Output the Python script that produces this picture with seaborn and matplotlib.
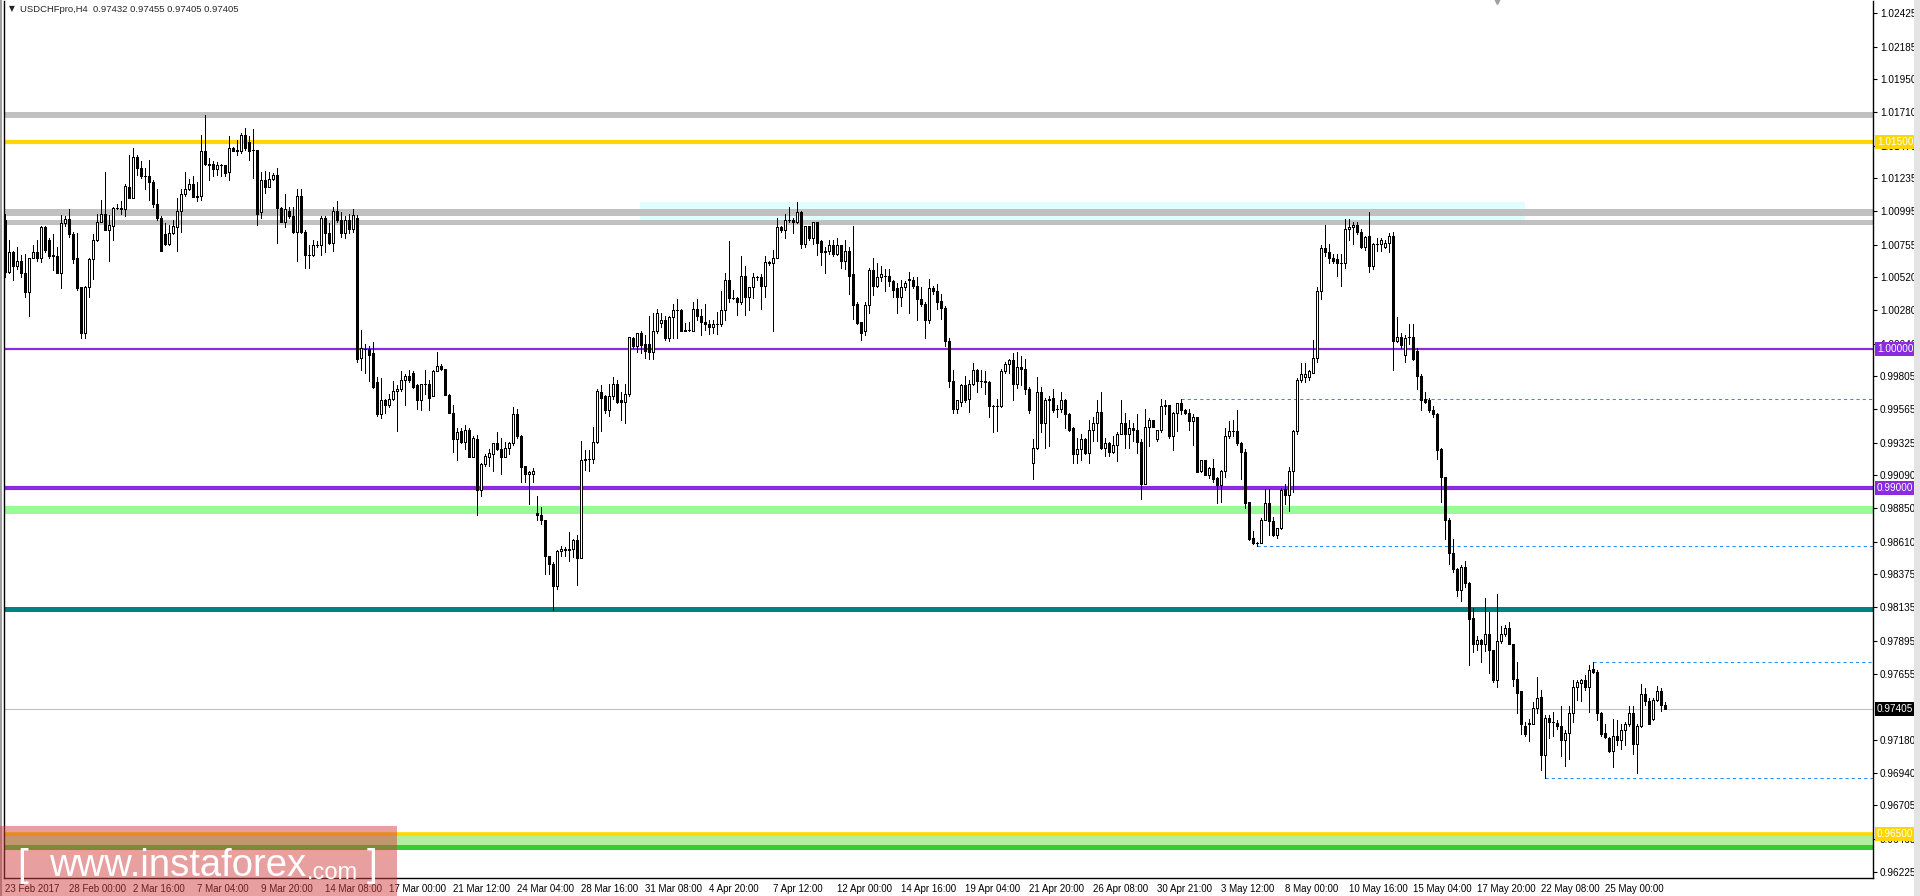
import numpy as np
import pandas as pd
import matplotlib

matplotlib.use("Agg")
import matplotlib.pyplot as plt
from matplotlib.patches import Rectangle
import seaborn as sns

W, H, DPI = 1920, 896, 100

SYMBOL = "USDCHFpro,H4"
LAST_OHLC = [0.97432, 0.97455, 0.97405, 0.97405]

# H4 candles left to right
OPENS = [
    1.0093, 1.0056, 1.0070, 1.0060, 1.0064, 1.0055, 1.0041, 1.0066, 1.0070, 1.0066,
    1.0088, 1.0079, 1.0067, 1.0067, 1.0055, 1.0091, 1.0094, 1.0083, 1.0066, 1.0045,
    1.0012, 1.0045, 1.0065, 1.0079, 1.0092, 1.0098, 1.0086, 1.0089, 1.0102, 1.0102,
    1.0101, 1.0117, 1.0109, 1.0139, 1.0131, 1.0125, 1.0125, 1.0121, 1.0105, 1.0095,
    1.0083, 1.0076, 1.0084, 1.0088, 1.0100, 1.0112, 1.0116, 1.0119, 1.0110, 1.0111,
    1.0143, 1.0134, 1.0134, 1.0130, 1.0133, 1.0133, 1.0128, 1.0145, 1.0144, 1.0143,
    1.0155, 1.0150, 1.0144, 1.0144, 1.0099, 1.0122, 1.0117, 1.0123, 1.0126, 1.0102,
    1.0092, 1.0100, 1.0096, 1.0085, 1.0111, 1.0085, 1.0068, 1.0068, 1.0075, 1.0075,
    1.0095, 1.0084, 1.0077, 1.0100, 1.0093, 1.0084, 1.0093, 1.0087, 1.0095, 0.9994,
    1.0000, 1.0000, 0.9997, 0.9976, 0.9953, 0.9963, 0.9960, 0.9964, 0.9970, 0.9971,
    0.9978, 0.9981, 0.9983, 0.9974, 0.9963, 0.9975, 0.9975, 0.9966, 0.9984, 0.9988,
    0.9986, 0.9967, 0.9954, 0.9935, 0.9941, 0.9933, 0.9942, 0.9922, 0.9935, 0.9898,
    0.9917, 0.9922, 0.9924, 0.9932, 0.9928, 0.9922, 0.9929, 0.9932, 0.9953, 0.9937,
    0.9916, 0.9910, 0.9910, 0.9882, 0.9880, 0.9877, 0.9851, 0.9845, 0.9829, 0.9854,
    0.9855, 0.9855, 0.9856, 0.9862, 0.9849, 0.9920, 0.9921, 0.9921, 0.9933, 0.9969,
    0.9966, 0.9956, 0.9966, 0.9975, 0.9963, 0.9962, 0.9968, 1.0008, 1.0002, 1.0012,
    1.0004, 1.0004, 0.9998, 1.0013, 1.0019, 1.0021, 1.0008, 1.0023, 1.0028, 1.0028,
    1.0013, 1.0014, 1.0013, 1.0029, 1.0024, 1.0020, 1.0018, 1.0016, 1.0018, 1.0018,
    1.0028, 1.0050, 1.0037, 1.0037, 1.0034, 1.0053, 1.0038, 1.0045, 1.0052, 1.0052,
    1.0046, 1.0063, 1.0062, 1.0066, 1.0088, 1.0086, 1.0093, 1.0093, 1.0092, 1.0099,
    1.0076, 1.0089, 1.0080, 1.0092, 1.0078, 1.0070, 1.0071, 1.0075, 1.0069, 1.0075,
    1.0064, 1.0071, 1.0054, 1.0033, 1.0020, 1.0013, 1.0032, 1.0057, 1.0046, 1.0052,
    1.0053, 1.0053, 1.0049, 1.0044, 1.0038, 1.0045, 1.0051, 1.0050, 1.0046, 1.0036,
    1.0033, 1.0021, 1.0044, 1.0042, 1.0035, 1.0030, 1.0006, 0.9977, 0.9957, 0.9962,
    0.9974, 0.9964, 0.9975, 0.9985, 0.9977, 0.9977, 0.9976, 0.9959, 0.9959, 0.9959,
    0.9984, 0.9989, 0.9992, 0.9975, 0.9987, 0.9986, 0.9971, 0.9918, 0.9929, 0.9969,
    0.9947, 0.9963, 0.9965, 0.9957, 0.9957, 0.9963, 0.9953, 0.9943, 0.9924, 0.9928,
    0.9935, 0.9925, 0.9942, 0.9947, 0.9955, 0.9929, 0.9932, 0.9926, 0.9931, 0.9939,
    0.9947, 0.9939, 0.9943, 0.9942, 0.9933, 0.9903, 0.9944, 0.9949, 0.9935, 0.9942,
    0.9959, 0.9960, 0.9937, 0.9954, 0.9961, 0.9956, 0.9954, 0.9948, 0.9951, 0.9912,
    0.9920, 0.9909, 0.9914, 0.9907, 0.9902, 0.9912, 0.9937, 0.9941, 0.9941, 0.9932,
    0.9926, 0.9890, 0.9864, 0.9860, 0.9860, 0.9877, 0.9889, 0.9876, 0.9866, 0.9871,
    0.9899, 0.9895, 0.9912, 0.9941, 0.9978, 0.9980, 0.9980, 0.9983, 0.9994, 1.0042,
    1.0073, 1.0070, 1.0066, 1.0065, 1.0062, 1.0062, 1.0087, 1.0088, 1.0090, 1.0085,
    1.0074, 1.0082, 1.0060, 1.0076, 1.0076, 1.0074, 1.0077, 1.0082, 1.0006, 1.0009,
    0.9996, 1.0009, 1.0009, 0.9999, 0.9981, 0.9964, 0.9963, 0.9956, 0.9953, 0.9928,
    0.9908, 0.9877, 0.9853, 0.9841, 0.9826, 0.9843, 0.9831, 0.9806, 0.9787, 0.9790,
    0.9787, 0.9794, 0.9783, 0.9761, 0.9789, 0.9794, 0.9799, 0.9787, 0.9762, 0.9753,
    0.9728, 0.9729, 0.9729, 0.9741, 0.9749, 0.9707, 0.9734, 0.9731, 0.9730, 0.9728,
    0.9718, 0.9723, 0.9737, 0.9756, 0.9759, 0.9761, 0.9756, 0.9769, 0.9767, 0.9737,
    0.9723, 0.9719, 0.9710, 0.9721, 0.9718, 0.9725, 0.9729, 0.9737, 0.9715, 0.9728,
    0.9751, 0.9746, 0.9733, 0.9747, 0.9753, 0.97432,
]
HIGHS = [
    1.0098, 1.0079, 1.0071, 1.0074, 1.0068, 1.0069, 1.0066, 1.0075, 1.0079, 1.0089,
    1.0089, 1.0080, 1.0083, 1.0074, 1.0097, 1.0096, 1.0101, 1.0085, 1.0084, 1.0045,
    1.0046, 1.0066, 1.0083, 1.0098, 1.0108, 1.0128, 1.0097, 1.0103, 1.0105, 1.0107,
    1.0119, 1.0140, 1.0145, 1.0140, 1.0136, 1.0131, 1.0137, 1.0122, 1.0116, 1.0096,
    1.0091, 1.0090, 1.0093, 1.0109, 1.0116, 1.0128, 1.0123, 1.0125, 1.0121, 1.0155,
    1.0169, 1.0138, 1.0136, 1.0135, 1.0134, 1.0133, 1.0154, 1.0146, 1.0151, 1.0156,
    1.0160, 1.0154, 1.0159, 1.0144, 1.0128, 1.0129, 1.0128, 1.0127, 1.0131, 1.0103,
    1.0112, 1.0103, 1.0103, 1.0116, 1.0116, 1.0086, 1.0075, 1.0079, 1.0078, 1.0096,
    1.0096, 1.0091, 1.0103, 1.0107, 1.0099, 1.0096, 1.0098, 1.0101, 1.0097, 1.0014,
    1.0004, 1.0002, 1.0005, 0.9980, 0.9979, 0.9964, 0.9968, 0.9977, 0.9974, 0.9984,
    0.9982, 0.9985, 0.9984, 0.9975, 0.9975, 0.9985, 0.9978, 0.9985, 0.9998, 0.9989,
    0.9986, 0.9968, 0.9960, 0.9943, 0.9943, 0.9945, 0.9943, 0.9937, 0.9938, 0.9918,
    0.9924, 0.9928, 0.9932, 0.9940, 0.9936, 0.9933, 0.9933, 0.9958, 0.9957, 0.9938,
    0.9916, 0.9912, 0.9914, 0.9894, 0.9886, 0.9877, 0.9851, 0.9846, 0.9855, 0.9858,
    0.9857, 0.9868, 0.9863, 0.9866, 0.9934, 0.9927, 0.9927, 0.9944, 0.9971, 0.9974,
    0.9967, 0.9975, 0.9980, 0.9978, 0.9969, 0.9975, 1.0009, 1.0009, 1.0012, 1.0013,
    1.0010, 1.0024, 1.0026, 1.0029, 1.0026, 1.0024, 1.0024, 1.0033, 1.0036, 1.0029,
    1.0019, 1.0020, 1.0034, 1.0036, 1.0029, 1.0033, 1.0021, 1.0021, 1.0027, 1.0042,
    1.0055, 1.0078, 1.0043, 1.0038, 1.0067, 1.0060, 1.0045, 1.0055, 1.0053, 1.0054,
    1.0067, 1.0064, 1.0072, 1.0095, 1.0089, 1.0098, 1.0103, 1.0095, 1.0106, 1.0100,
    1.0089, 1.0089, 1.0092, 1.0092, 1.0079, 1.0074, 1.0079, 1.0079, 1.0080, 1.0075,
    1.0079, 1.0074, 1.0089, 1.0034, 1.0020, 1.0034, 1.0059, 1.0066, 1.0062, 1.0060,
    1.0058, 1.0058, 1.0050, 1.0048, 1.0050, 1.0049, 1.0056, 1.0052, 1.0052, 1.0045,
    1.0034, 1.0051, 1.0046, 1.0047, 1.0040, 1.0031, 1.0008, 0.9985, 0.9963, 0.9975,
    0.9981, 0.9978, 0.9990, 0.9986, 0.9985, 0.9984, 0.9977, 0.9960, 0.9964, 0.9986,
    0.9991, 0.9993, 0.9997, 0.9998, 0.9995, 0.9993, 0.9973, 0.9935, 0.9980, 0.9973,
    0.9965, 0.9966, 0.9971, 0.9960, 0.9969, 0.9964, 0.9954, 0.9944, 0.9936, 0.9939,
    0.9936, 0.9949, 0.9951, 0.9963, 0.9969, 0.9936, 0.9933, 0.9937, 0.9940, 0.9963,
    0.9954, 0.9949, 0.9947, 0.9953, 0.9935, 0.9957, 0.9950, 0.9949, 0.9942, 0.9964,
    0.9963, 0.9960, 0.9955, 0.9961, 0.9964, 0.9957, 0.9957, 0.9953, 0.9951, 0.9920,
    0.9920, 0.9915, 0.9921, 0.9908, 0.9913, 0.9943, 0.9948, 0.9949, 0.9956, 0.9933,
    0.9928, 0.9890, 0.9869, 0.9861, 0.9878, 0.9899, 0.9899, 0.9879, 0.9871, 0.9900,
    0.9903, 0.9915, 0.9942, 0.9979, 0.9990, 0.9990, 0.9985, 1.0007, 1.0045, 1.0075,
    1.0090, 1.0076, 1.0069, 1.0069, 1.0069, 1.0094, 1.0094, 1.0092, 1.0092, 1.0087,
    1.0082, 1.0099, 1.0077, 1.0080, 1.0080, 1.0079, 1.0084, 1.0085, 1.0023, 1.0012,
    1.0010, 1.0018, 1.0018, 1.0001, 0.9982, 0.9969, 0.9965, 0.9959, 0.9954, 0.9929,
    0.9908, 0.9878, 0.9863, 0.9842, 0.9844, 0.9847, 0.9832, 0.9813, 0.9793, 0.9791,
    0.9820, 0.9810, 0.9783, 0.9823, 0.9800, 0.9801, 0.9803, 0.9787, 0.9774, 0.9753,
    0.9731, 0.9733, 0.9745, 0.9763, 0.9754, 0.9736, 0.9736, 0.9738, 0.9732, 0.9742,
    0.9725, 0.9742, 0.9761, 0.9761, 0.9762, 0.9765, 0.9772, 0.9774, 0.9768, 0.9738,
    0.9729, 0.9720, 0.9733, 0.9732, 0.9729, 0.9731, 0.9742, 0.9742, 0.9729, 0.9758,
    0.9755, 0.9748, 0.9748, 0.9757, 0.9755, 0.97455,
]
LOWS = [
    1.0052, 1.0055, 1.0050, 1.0058, 1.0052, 1.0038, 1.0024, 1.0066, 1.0064, 1.0063,
    1.0070, 1.0066, 1.0057, 1.0055, 1.0044, 1.0089, 1.0081, 1.0062, 1.0043, 1.0008,
    1.0008, 1.0038, 1.0051, 1.0078, 1.0092, 1.0086, 1.0064, 1.0079, 1.0101, 1.0098,
    1.0096, 1.0109, 1.0109, 1.0126, 1.0124, 1.0116, 1.0108, 1.0103, 1.0093, 1.0071,
    1.0075, 1.0075, 1.0083, 1.0071, 1.0085, 1.0111, 1.0115, 1.0110, 1.0107, 1.0108,
    1.0133, 1.0122, 1.0125, 1.0126, 1.0125, 1.0125, 1.0122, 1.0143, 1.0140, 1.0142,
    1.0144, 1.0137, 1.0124, 1.0090, 1.0095, 1.0113, 1.0117, 1.0122, 1.0077, 1.0092,
    1.0088, 1.0095, 1.0084, 1.0064, 1.0084, 1.0059, 1.0059, 1.0067, 1.0074, 1.0068,
    1.0070, 1.0076, 1.0071, 1.0092, 1.0081, 1.0080, 1.0084, 1.0085, 0.9991, 0.9985,
    0.9983, 0.9977, 0.9972, 0.9952, 0.9950, 0.9954, 0.9958, 0.9963, 0.9941, 0.9970,
    0.9960, 0.9976, 0.9972, 0.9957, 0.9956, 0.9968, 0.9956, 0.9966, 0.9984, 0.9985,
    0.9967, 0.9954, 0.9926, 0.9920, 0.9932, 0.9928, 0.9922, 0.9922, 0.9880, 0.9894,
    0.9916, 0.9916, 0.9912, 0.9927, 0.9910, 0.9922, 0.9924, 0.9931, 0.9936, 0.9904,
    0.9904, 0.9888, 0.9904, 0.9877, 0.9874, 0.9838, 0.9838, 0.9812, 0.9827, 0.9851,
    0.9851, 0.9847, 0.9850, 0.9830, 0.9849, 0.9913, 0.9912, 0.9918, 0.9932, 0.9941,
    0.9954, 0.9952, 0.9964, 0.9961, 0.9949, 0.9947, 0.9966, 1.0001, 0.9998, 0.9997,
    0.9994, 0.9993, 0.9993, 1.0012, 1.0016, 1.0007, 1.0006, 1.0008, 1.0008, 1.0013,
    1.0013, 1.0013, 1.0013, 1.0021, 1.0010, 1.0014, 1.0011, 1.0012, 1.0011, 1.0017,
    1.0021, 1.0034, 1.0036, 1.0025, 1.0033, 1.0025, 1.0028, 1.0037, 1.0050, 1.0029,
    1.0038, 1.0061, 1.0013, 1.0066, 1.0085, 1.0080, 1.0092, 1.0084, 1.0091, 1.0073,
    1.0074, 1.0079, 1.0076, 1.0068, 1.0061, 1.0055, 1.0069, 1.0067, 1.0068, 1.0059,
    1.0058, 1.0040, 1.0022, 1.0018, 1.0007, 1.0010, 1.0026, 1.0039, 1.0045, 1.0049,
    1.0042, 1.0046, 1.0038, 1.0026, 1.0031, 1.0043, 1.0026, 1.0044, 1.0021, 1.0031,
    1.0008, 1.0019, 1.0040, 1.0029, 1.0022, 1.0002, 0.9973, 0.9954, 0.9954, 0.9959,
    0.9962, 0.9955, 0.9974, 0.9969, 0.9973, 0.9968, 0.9951, 0.9940, 0.9941, 0.9958,
    0.9983, 0.9983, 0.9963, 0.9972, 0.9974, 0.9968, 0.9954, 0.9906, 0.9928, 0.9940,
    0.9929, 0.9930, 0.9955, 0.9951, 0.9955, 0.9943, 0.9941, 0.9918, 0.9918, 0.9920,
    0.9924, 0.9918, 0.9934, 0.9934, 0.9928, 0.9923, 0.9923, 0.9925, 0.9919, 0.9939,
    0.9929, 0.9929, 0.9934, 0.9925, 0.9892, 0.9903, 0.9930, 0.9944, 0.9934, 0.9940,
    0.9953, 0.9936, 0.9927, 0.9941, 0.9953, 0.9953, 0.9942, 0.9931, 0.9911, 0.9911,
    0.9909, 0.9907, 0.9904, 0.9889, 0.9890, 0.9908, 0.9936, 0.9937, 0.9931, 0.9906,
    0.9885, 0.9862, 0.9859, 0.9858, 0.9860, 0.9877, 0.9866, 0.9865, 0.9864, 0.9870,
    0.9888, 0.9883, 0.9897, 0.9939, 0.9976, 0.9976, 0.9978, 0.9983, 0.9991, 1.0036,
    1.0067, 1.0062, 1.0062, 1.0053, 1.0046, 1.0059, 1.0079, 1.0076, 1.0083, 1.0073,
    1.0072, 1.0056, 1.0058, 1.0071, 1.0071, 1.0073, 1.0070, 0.9985, 1.0005, 1.0001,
    0.9991, 1.0004, 0.9992, 0.9971, 0.9956, 0.9961, 0.9955, 0.9951, 0.9921, 0.9890,
    0.9863, 0.9845, 0.9839, 0.9822, 0.9818, 0.9828, 0.9772, 0.9781, 0.9783, 0.9774,
    0.9782, 0.9766, 0.9760, 0.9756, 0.9788, 0.9793, 0.9787, 0.9757, 0.9737, 0.9722,
    0.9721, 0.9717, 0.9729, 0.9737, 0.9696, 0.9690, 0.9719, 0.9721, 0.9726, 0.9706,
    0.9699, 0.9704, 0.9731, 0.9747, 0.9746, 0.9754, 0.9738, 0.9766, 0.9732, 0.9721,
    0.9719, 0.9709, 0.9698, 0.9714, 0.9711, 0.9714, 0.9728, 0.9708, 0.9694, 0.9727,
    0.9743, 0.9729, 0.9732, 0.9746, 0.9739, 0.97405,
]
CLOSES = [
    1.0056, 1.0070, 1.0060, 1.0064, 1.0055, 1.0041, 1.0066, 1.0070, 1.0066, 1.0088,
    1.0072, 1.0067, 1.0068, 1.0055, 1.0091, 1.0094, 1.0083, 1.0065, 1.0044, 1.0012,
    1.0045, 1.0065, 1.0079, 1.0092, 1.0098, 1.0086, 1.0090, 1.0102, 1.0102, 1.0101,
    1.0118, 1.0109, 1.0139, 1.0131, 1.0125, 1.0125, 1.0121, 1.0105, 1.0095, 1.0071,
    1.0076, 1.0084, 1.0089, 1.0100, 1.0112, 1.0116, 1.0119, 1.0110, 1.0111, 1.0143,
    1.0134, 1.0133, 1.0130, 1.0133, 1.0133, 1.0127, 1.0145, 1.0143, 1.0143, 1.0155,
    1.0145, 1.0143, 1.0144, 1.0098, 1.0122, 1.0117, 1.0123, 1.0126, 1.0102, 1.0092,
    1.0101, 1.0096, 1.0085, 1.0111, 1.0085, 1.0068, 1.0068, 1.0075, 1.0075, 1.0095,
    1.0084, 1.0077, 1.0100, 1.0093, 1.0084, 1.0093, 1.0087, 1.0097, 0.9993, 1.0001,
    1.0000, 0.9996, 0.9973, 0.9953, 0.9963, 0.9960, 0.9964, 0.9970, 0.9971, 0.9978,
    0.9981, 0.9978, 0.9973, 0.9963, 0.9975, 0.9975, 0.9965, 0.9984, 0.9988, 0.9986,
    0.9967, 0.9954, 0.9935, 0.9940, 0.9933, 0.9942, 0.9922, 0.9936, 0.9898, 0.9917,
    0.9923, 0.9925, 0.9932, 0.9928, 0.9922, 0.9929, 0.9932, 0.9953, 0.9937, 0.9915,
    0.9910, 0.9911, 0.9912, 0.9880, 0.9877, 0.9851, 0.9845, 0.9829, 0.9854, 0.9856,
    0.9856, 0.9856, 0.9862, 0.9849, 0.9920, 0.9921, 0.9921, 0.9933, 0.9970, 0.9965,
    0.9956, 0.9966, 0.9975, 0.9962, 0.9962, 0.9968, 1.0009, 1.0002, 1.0012, 1.0003,
    0.9999, 0.9998, 1.0013, 1.0026, 1.0021, 1.0008, 1.0023, 1.0028, 1.0028, 1.0013,
    1.0014, 1.0014, 1.0029, 1.0024, 1.0020, 1.0018, 1.0016, 1.0018, 1.0018, 1.0028,
    1.0050, 1.0037, 1.0037, 1.0034, 1.0053, 1.0038, 1.0045, 1.0052, 1.0052, 1.0046,
    1.0063, 1.0062, 1.0066, 1.0088, 1.0086, 1.0093, 1.0093, 1.0092, 1.0099, 1.0076,
    1.0089, 1.0080, 1.0092, 1.0077, 1.0070, 1.0071, 1.0075, 1.0069, 1.0075, 1.0064,
    1.0071, 1.0053, 1.0032, 1.0019, 1.0012, 1.0032, 1.0057, 1.0046, 1.0052, 1.0054,
    1.0053, 1.0049, 1.0043, 1.0038, 1.0045, 1.0048, 1.0050, 1.0046, 1.0036, 1.0033,
    1.0021, 1.0044, 1.0042, 1.0034, 1.0030, 1.0006, 0.9977, 0.9957, 0.9963, 0.9974,
    0.9963, 0.9975, 0.9985, 0.9977, 0.9977, 0.9976, 0.9959, 0.9959, 0.9959, 0.9984,
    0.9989, 0.9992, 0.9975, 0.9987, 0.9986, 0.9971, 0.9956, 0.9929, 0.9969, 0.9947,
    0.9963, 0.9964, 0.9956, 0.9957, 0.9963, 0.9953, 0.9942, 0.9924, 0.9928, 0.9935,
    0.9925, 0.9942, 0.9947, 0.9955, 0.9929, 0.9932, 0.9926, 0.9931, 0.9939, 0.9947,
    0.9939, 0.9943, 0.9942, 0.9933, 0.9903, 0.9944, 0.9949, 0.9944, 0.9942, 0.9959,
    0.9960, 0.9937, 0.9954, 0.9961, 0.9956, 0.9954, 0.9948, 0.9951, 0.9911, 0.9920,
    0.9909, 0.9914, 0.9906, 0.9902, 0.9912, 0.9937, 0.9941, 0.9941, 0.9932, 0.9926,
    0.9889, 0.9863, 0.9860, 0.9860, 0.9877, 0.9889, 0.9876, 0.9866, 0.9871, 0.9898,
    0.9895, 0.9912, 0.9941, 0.9978, 0.9982, 0.9982, 0.9984, 0.9994, 1.0042, 1.0073,
    1.0070, 1.0066, 1.0064, 1.0062, 1.0062, 1.0087, 1.0088, 1.0090, 1.0085, 1.0074,
    1.0081, 1.0060, 1.0076, 1.0076, 1.0079, 1.0077, 1.0082, 1.0006, 1.0009, 1.0003,
    1.0008, 1.0009, 0.9993, 0.9981, 0.9963, 0.9962, 0.9956, 0.9953, 0.9927, 0.9908,
    0.9877, 0.9853, 0.9841, 0.9826, 0.9843, 0.9831, 0.9805, 0.9787, 0.9790, 0.9787,
    0.9794, 0.9783, 0.9761, 0.9789, 0.9794, 0.9799, 0.9787, 0.9762, 0.9752, 0.9729,
    0.9722, 0.9730, 0.9741, 0.9748, 0.9707, 0.9734, 0.9731, 0.9731, 0.9728, 0.9718,
    0.9723, 0.9737, 0.9756, 0.9760, 0.9761, 0.9756, 0.9768, 0.9767, 0.9737, 0.9722,
    0.9720, 0.9710, 0.9721, 0.9718, 0.9725, 0.9729, 0.9737, 0.9715, 0.9728, 0.9751,
    0.9746, 0.9729, 0.9747, 0.9753, 0.9743, 0.97405,
]

DATE_LABELS = [
    "23 Feb 2017", "28 Feb 00:00", "2 Mar 16:00", "7 Mar 04:00", "9 Mar 20:00",
    "14 Mar 08:00", "17 Mar 00:00", "21 Mar 12:00", "24 Mar 04:00", "28 Mar 16:00",
    "31 Mar 08:00", "4 Apr 20:00", "7 Apr 12:00", "12 Apr 00:00", "14 Apr 16:00",
    "19 Apr 04:00", "21 Apr 20:00", "26 Apr 08:00", "30 Apr 21:00", "3 May 12:00",
    "8 May 00:00", "10 May 16:00", "15 May 04:00", "17 May 20:00", "22 May 08:00",
    "25 May 00:00",
]
DATE_STEP = 16

PRICE_TICKS = [
    1.02425, 1.02185, 1.01950, 1.01710, 1.01470, 1.01235, 1.00995, 1.00755,
    1.00520, 1.00280, 1.00040, 0.99805, 0.99565, 0.99325, 0.99090, 0.98850,
    0.98610, 0.98375, 0.98135, 0.97895, 0.97655, 0.97180, 0.96940, 0.96705,
    0.96465, 0.96225,
]
Y_RANGE = (0.96181, 1.02515)

# levels drawn on the chart
GRAY_ZONES = [(1.0167, 1.0171), (1.0096, 1.0101), (1.0090, 1.0093)]
CYAN_ZONE = (158.75, 380, 1.0090, 1.0106)  # first bar, last bar, low, high
GOLD_LEVELS = [1.0150, 0.9650]
VIOLET_LEVELS = [1.0000, 0.9900]
PALEGREEN_ZONE = (0.9881, 0.9887)
TEAL_ZONE = (0.98105, 0.98138)
LOW_GREEN_ZONE = (0.9642, 0.9649)
LIME_ZONE = (0.9638, 0.9642)
DASHED_START = [294, 313, 397, 385]
DASHED_PRICE = [0.9964, 0.9858, 0.9774, 0.9690]
TAGS = [1.01500, 1.00000, 0.99000, 0.97405, 0.96500]

GOLD = "#ffd700"
VIOLET = "#8a2be2"
TAG_COLORS = [GOLD, VIOLET, VIOLET, "black", GOLD]

sns.set_style("white")
plt.rcParams["font.family"] = ["Liberation Sans", "DejaVu Sans"]


def draw_levels(ax):
    x0, x1, lo, hi = CYAN_ZONE
    ax.add_patch(Rectangle((x0, lo), x1 - x0, hi - lo, color="#e0ffff", lw=0, zorder=1))
    for lo, hi in GRAY_ZONES:
        ax.axhspan(lo, hi, color="#c0c0c0", lw=0, zorder=2)
    ax.axhline(GOLD_LEVELS[0], color=GOLD, lw=3.0, zorder=2)
    ax.axhline(VIOLET_LEVELS[0], color=VIOLET, lw=1.6, zorder=2)
    ax.axhline(VIOLET_LEVELS[1], color=VIOLET, lw=3.0, zorder=2)
    ax.axhspan(*PALEGREEN_ZONE, color="#98fb98", lw=0, zorder=2)
    ax.axhspan(*TEAL_ZONE, color="#008080", lw=0, zorder=2)
    ax.axhspan(*LOW_GREEN_ZONE, color="#b2eea0", lw=0, zorder=2)
    ax.axhspan(*LIME_ZONE, color="#32cd32", lw=0, zorder=2)
    ax.axhline(GOLD_LEVELS[1], color=GOLD, lw=2.6, zorder=2)
    ax.axhline(LAST_OHLC[3], color="#c0c0c0", lw=0.8, zorder=2)
    xmax = ax.get_xlim()[1]
    for start, price in zip(DASHED_START, DASHED_PRICE):
        ax.hlines(price, start, xmax, color="#1e90ff", lw=0.75,
                  linestyles=(0, (3, 3)), zorder=2)


def draw_candles(ax, df):
    ax.vlines(df["x"], df["low"], df["high"], color="black", lw=0.5, zorder=4,
              antialiased=False)
    up = df[df["close"] >= df["open"]]
    down = df[df["close"] < df["open"]]
    ax.bar(up["x"], up["close"] - up["open"], bottom=up["open"], width=0.55,
           color="white", edgecolor="black", lw=0.5, zorder=5, antialiased=False)
    ax.bar(down["x"], down["open"] - down["close"], bottom=down["close"], width=0.55,
           color="black", edgecolor="black", lw=0.5, zorder=5, antialiased=False)


def main():
    df = pd.DataFrame({"open": OPENS, "high": HIGHS, "low": LOWS, "close": CLOSES})
    df["x"] = np.arange(len(df))

    fig = plt.figure(figsize=(W / DPI, H / DPI), dpi=DPI, facecolor="white")
    ax = fig.add_axes([4 / W, 18 / H, 1869 / W, 877 / H])
    ax.set_facecolor("white")
    ax.set_xlim(-0.25, 467)
    ax.set_ylim(*Y_RANGE)

    draw_levels(ax)
    draw_candles(ax, df)

    # price scale on the right
    ax.yaxis.tick_right()
    ax.set_yticks(PRICE_TICKS)
    ax.set_yticklabels([f"{p:.5f}" for p in PRICE_TICKS])
    ax.tick_params(axis="y", direction="out", length=3, width=0.8, pad=2,
                   labelsize=7.2, colors="black")

    ticks = np.arange(len(DATE_LABELS)) * DATE_STEP
    ax.set_xticks(ticks)
    ax.set_xticklabels(DATE_LABELS)
    ax.tick_params(axis="x", direction="out", length=4, width=0.8, pad=0,
                   labelsize=7, colors="black")
    for lbl in ax.get_xticklabels():
        lbl.set_ha("left")

    for side in ("left", "right", "bottom"):
        ax.spines[side].set_color("black")
        ax.spines[side].set_linewidth(1)
    ax.spines["top"].set_visible(False)
    ax.grid(False)

    for price, col in zip(TAGS, TAG_COLORS):
        ax.annotate(f"{price:.5f}", xy=(1, price), xycoords=("axes fraction", "data"),
                    xytext=(4, 0), textcoords="offset pixels", va="center", ha="left",
                    fontsize=7.2, color="white", zorder=10, annotation_clip=False,
                    bbox=dict(boxstyle="square,pad=0.2", fc=col, ec="none"))

    # chart shift marker
    ax.plot([373], [Y_RANGE[1]], marker="v", color="#a0a0a0", ms=5, clip_on=False)

    fig.text(9 / W, 1 - 9 / H, "\u25bc", fontsize=5.5, va="center",
             family=["DejaVu Sans"])
    fig.text(20 / W, 1 - 9 / H,
             f"{SYMBOL}  " + " ".join(f"{v:.5f}" for v in LAST_OHLC),
             fontsize=6.8, va="center")

    # window edges
    fig.add_artist(Rectangle((0, 0), 2 / W, 1, transform=fig.transFigure,
                             color="#a0a0a0", lw=0, zorder=6))
    fig.add_artist(Rectangle((1914 / W, 0), 6 / W, 1, transform=fig.transFigure,
                             color="#e4e4e4", lw=0, zorder=6))

    # watermark
    fig.add_artist(Rectangle((0, 0), 397 / W, 70 / H, transform=fig.transFigure,
                             color="#d24141", alpha=0.5, lw=0, zorder=7))
    wm = dict(color="white", zorder=8)
    fig.text(17 / W, 20 / H, "[", fontsize=28, va="baseline", **wm)
    site = fig.text(49 / W, 20 / H, "www.instaforex", fontsize=27.5,
                    va="baseline", **wm)
    com = fig.text(0, 0, ".com", fontsize=17, va="bottom", **wm)
    com.set_position((1.0, 0.0))
    com.set_transform(matplotlib.transforms.offset_copy(
        matplotlib.transforms.blended_transform_factory(fig.transFigure, fig.transFigure),
        fig=fig, x=0, y=0))
    fig.canvas.draw()
    bb = site.get_window_extent()
    com.set_position(((bb.x1 + 1) / W, bb.y0 / H))
    com_bb = com.get_window_extent()
    fig.text((com_bb.x1 + 8) / W, 20 / H, "]", fontsize=28, va="baseline", **wm)

    fig.savefig("out.png", dpi=DPI, facecolor="white")
    plt.close(fig)


if __name__ == "__main__":
    main()
